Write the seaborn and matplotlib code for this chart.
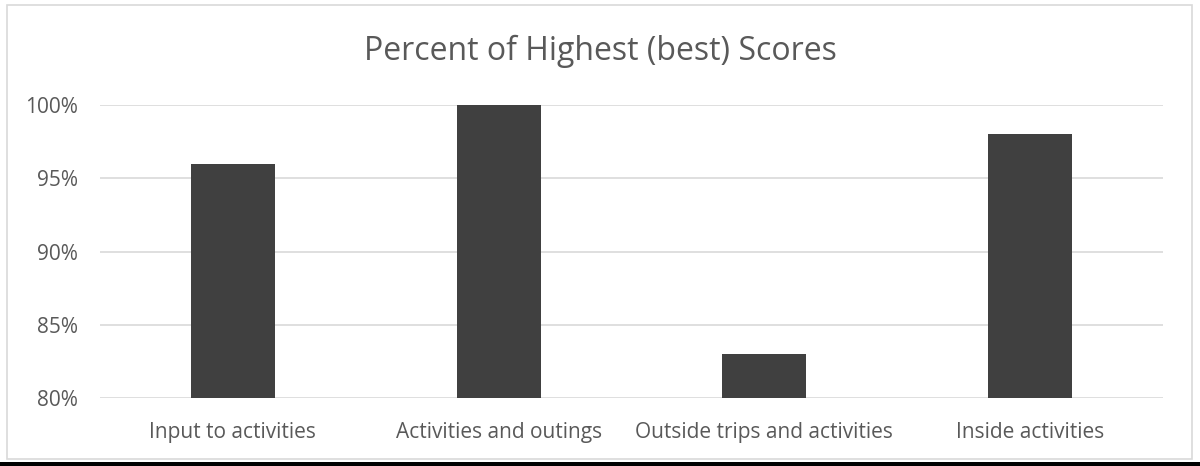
import matplotlib
matplotlib.use("Agg")
import matplotlib.pyplot as plt
import seaborn as sns
import pandas as pd
from matplotlib.patches import Rectangle
from matplotlib.ticker import FuncFormatter

categories = ["Input to activities", "Activities and outings", "Outside trips and activities", "Inside activities"]
values = [96, 100, 83, 98]
yticks = [80, 85, 90, 95, 100]
title = "Percent of Highest (best) Scores"

sns.set_theme(style="white")
plt.rcParams['font.family'] = ['Open Sans', 'DejaVu Sans']

df = pd.DataFrame({"cat": categories, "val": values})

fig = plt.figure(figsize=(12, 4.66), dpi=100)
ax = fig.add_axes([100/1200, 1-398/466, 1063/1200, (398-105)/466])

sns.barplot(data=df, x="cat", y="val", color="#404040", width=0.316, ax=ax, saturation=1, zorder=3)
for p in ax.patches:
    p.set_edgecolor("none")

ax.set_ylim(80, 100)
ax.set_yticks(yticks)
ax.yaxis.set_major_formatter(FuncFormatter(lambda v, _: f"{int(v)}%"))
ax.grid(axis="y", color="#d9d9d9", linewidth=1.2, zorder=0)
ax.set_axisbelow(True)
for s in ax.spines.values():
    s.set_visible(False)
ax.set_xlabel("")
ax.set_ylabel("")
ax.tick_params(axis="both", length=0, labelsize=15, colors="#595959")
ax.tick_params(axis="y", pad=16)
ax.tick_params(axis="x", pad=17)

fig.text(0.5, 1-51/466, title, ha="center", va="center", fontsize=23, color="#595959")

# outer chart border
fig.patches.append(Rectangle((7/1200, 1-459/466), (1192-7)/1200, (459-5)/466,
                             transform=fig.transFigure, fill=False, edgecolor="#d9d9d9", linewidth=1.2))
# bottom black band
fig.patches.append(Rectangle((0, 0), 1, 4/466, transform=fig.transFigure,
                             facecolor="black", edgecolor="none"))

fig.savefig("out.png", dpi=100)
